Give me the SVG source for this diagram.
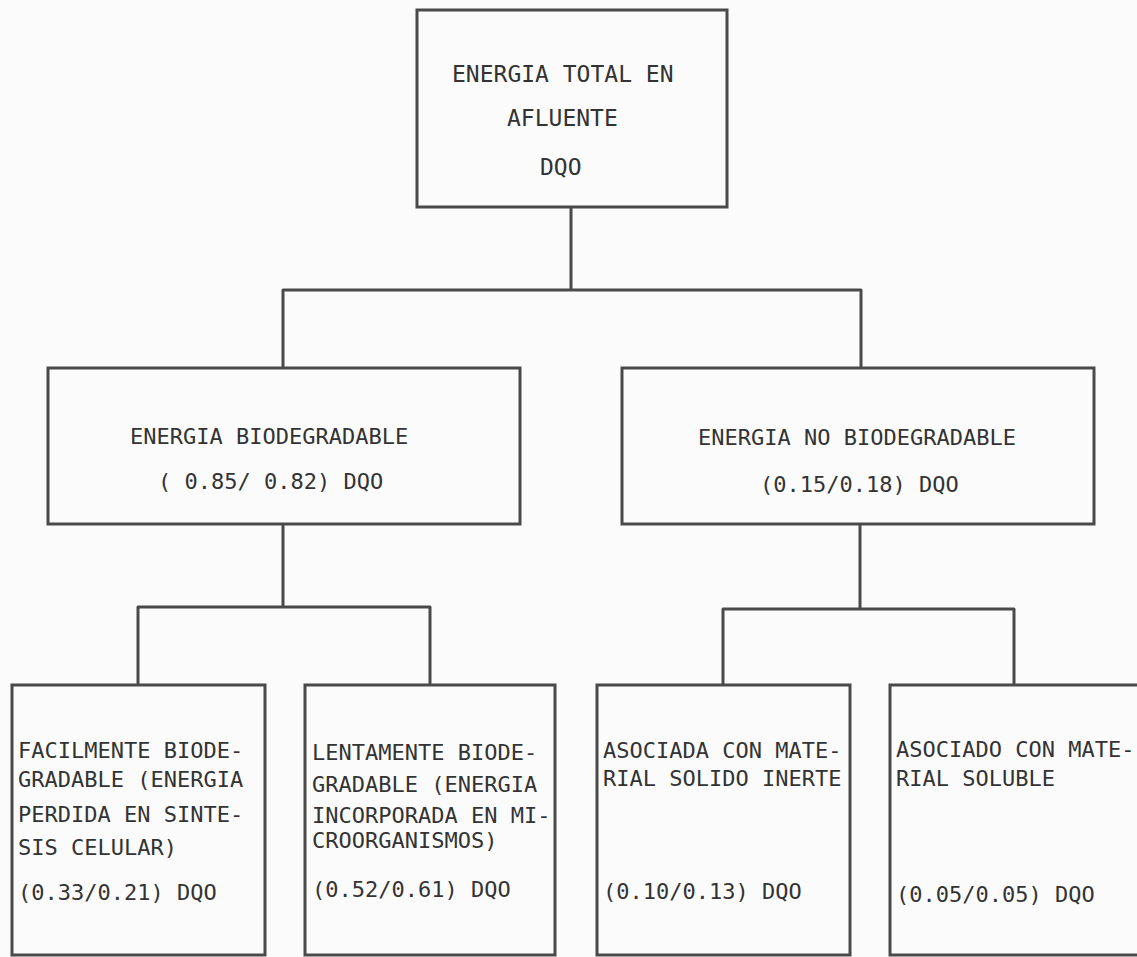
<svg xmlns="http://www.w3.org/2000/svg" width="1137" height="957" viewBox="0 0 1137 957">
<style>
.box{fill:none;stroke:#4a4a4a;stroke-width:3}
.ln{fill:none;stroke:#4a4a4a;stroke-width:3;stroke-linejoin:round}
text{font-family:"DejaVu Sans Mono","Liberation Mono",monospace;font-size:22px;fill:#333}
.t{font-size:23px}
</style>
<rect width="1137" height="957" fill="#fbfbfb"/>
<g id="connectors">
<path class="ln" d="M571,207 V290 M283,368 V290 H861 V368"/>
<path class="ln" d="M283,524 V607 M138,685 V607 H430 V685"/>
<path class="ln" d="M860,524 V609 M723,685 V609 H1014 V685"/>
</g>
<g id="n-total">
<rect class="box" x="417" y="10" width="310" height="197"/>
<text class="t" x="452" y="82">ENERGIA TOTAL EN</text>
<text class="t" x="507" y="126">AFLUENTE</text>
<text class="t" x="540" y="175">DQO</text>
</g>
<g id="n-bio">
<rect class="box" x="48" y="368" width="472" height="156"/>
<text x="130" y="444">ENERGIA BIODEGRADABLE</text>
<text x="158" y="489">( 0.85/ 0.82) DQO</text>
</g>
<g id="n-nobio">
<rect class="box" x="622" y="368" width="472" height="156"/>
<text x="698" y="445">ENERGIA NO BIODEGRADABLE</text>
<text x="760" y="492">(0.15/0.18) DQO</text>
</g>
<g id="n-facil">
<rect class="box" x="12" y="685" width="253" height="270"/>
<text x="18" y="758">FACILMENTE BIODE-</text>
<text x="18" y="787">GRADABLE (ENERGIA</text>
<text x="18" y="822">PERDIDA EN SINTE-</text>
<text x="18" y="855">SIS CELULAR)</text>
<text x="18" y="900">(0.33/0.21) DQO</text>
</g>
<g id="n-lenta">
<rect class="box" x="305" y="685" width="250" height="270"/>
<text x="312" y="760">LENTAMENTE BIODE-</text>
<text x="312" y="792">GRADABLE (ENERGIA</text>
<text x="312" y="823">INCORPORADA EN MI-</text>
<text x="312" y="848">CROORGANISMOS)</text>
<text x="312" y="897">(0.52/0.61) DQO</text>
</g>
<g id="n-inerte">
<rect class="box" x="597" y="685" width="253" height="270"/>
<text x="603" y="758">ASOCIADA CON MATE-</text>
<text x="603" y="786">RIAL SOLIDO INERTE</text>
<text x="603" y="899">(0.10/0.13) DQO</text>
</g>
<g id="n-soluble">
<rect class="box" x="890" y="685" width="260" height="270"/>
<text x="896" y="757">ASOCIADO CON MATE-</text>
<text x="896" y="786">RIAL SOLUBLE</text>
<text x="896" y="902">(0.05/0.05) DQO</text>
</g>
</svg>
